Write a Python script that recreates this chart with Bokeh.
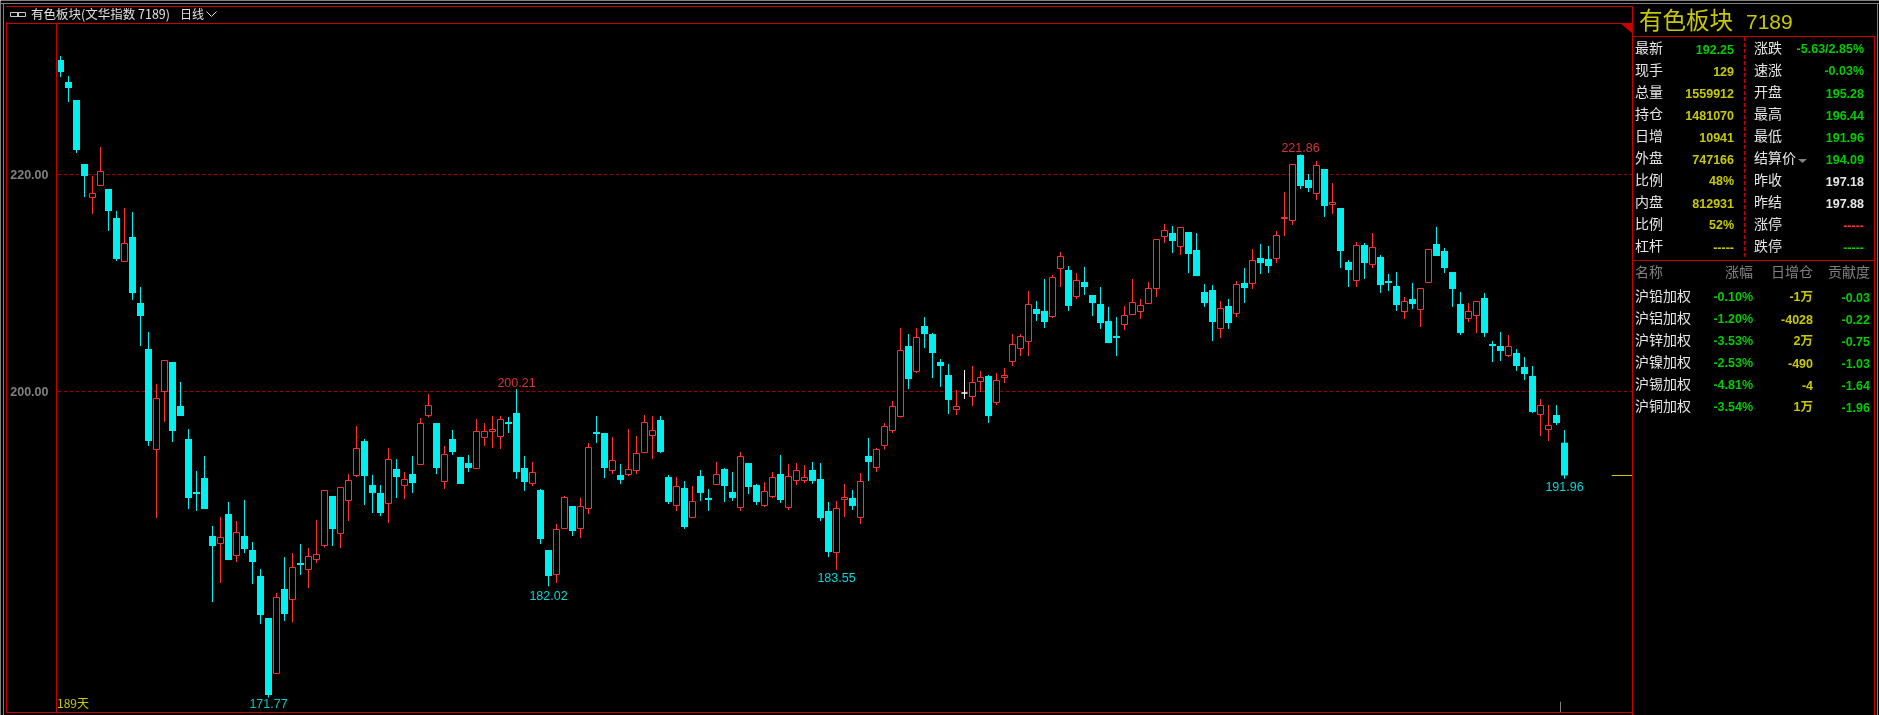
from bokeh.embed import file_html
from bokeh.resources import INLINE
from bokeh.plotting import figure
from bokeh.layouts import column
from bokeh.models import ColumnDataSource, FixedTicker, NumeralTickFormatter, Range1d
from bokeh.core.properties import value

highs = [230.95,229.10,226.89,220.99,219.88,222.56,218.68,216.65,216.93,216.56,
209.64,205.49,200.69,202.86,202.72,200.88,196.54,192.67,194.05,187.59,
188.42,189.81,188.05,189.99,186.12,183.63,179.11,181.41,184.73,185.10,
185.93,185.56,188.15,190.87,190.36,191.14,192.39,196.82,195.62,192.30,
191.37,194.79,193.77,192.57,194.05,197.56,199.77,197.09,194.97,196.45,
193.96,194.14,197.46,197.09,197.74,197.74,197.65,200.21,194.05,193.50,
191.01,185.38,187.78,190.36,189.44,190.22,195.25,197.74,196.17,195.80,
193.31,196.54,195.89,197.83,197.74,197.74,192.30,192.11,191.74,191.28,
192.76,191.01,193.50,192.94,192.57,194.42,193.40,191.47,191.65,192.57,
194.14,193.31,193.40,193.22,193.50,193.40,189.81,189.90,191.47,190.91,
192.48,195.71,194.79,197.09,199.12,205.86,205.30,205.86,206.87,205.40,
203.00,202.54,200.14,201.98,202.35,201.89,201.52,201.71,202.17,205.30,
205.30,209.27,208.35,210.38,210.75,212.87,211.58,210.93,211.49,208.90,
209.64,207.80,206.87,207.89,210.38,208.53,210.10,214.02,215.45,215.27,
215.13,214.71,214.62,209.92,209.82,208.35,208.53,210.19,211.39,213.15,
213.61,213.42,214.81,218.40,220.94,221.86,220.06,221.26,220.53,219.23,
216.93,212.13,213.79,213.70,214.62,212.59,210.84,211.02,208.72,210.01,
209.50,213.10,215.18,213.24,211.02,209.18,208.16,208.30,209.09,204.66,
205.49,205.21,203.92,203.18,202.35,199.31,198.75,198.75,196.44]

lows = [229.01,226.71,222.00,217.94,216.37,219.00,214.81,212.04,211.99,208.44,
204.20,194.97,188.33,197.19,195.34,197.74,189.16,188.98,189.16,180.58,
182.33,184.46,184.27,185.10,182.24,178.55,171.77,173.99,178.83,178.69,
183.07,181.87,184.18,185.61,185.75,185.56,188.05,192.11,189.53,188.79,
188.51,187.87,190.18,190.08,190.64,193.27,197.60,192.39,191.01,194.14,
191.47,192.57,192.90,194.97,194.79,194.70,196.17,191.93,190.82,191.28,
185.93,182.02,182.33,187.36,186.67,186.49,188.70,195.25,192.02,192.39,
191.47,192.20,192.39,194.37,193.77,194.33,189.62,188.98,187.32,188.38,
189.90,188.98,191.42,189.81,189.90,188.98,190.54,189.53,189.35,190.18,
189.71,189.07,191.37,191.56,191.47,188.05,184.73,183.55,188.42,189.07,
187.78,191.74,192.57,194.65,196.17,197.60,200.23,201.71,204.01,201.25,
200.42,197.92,197.83,199.31,198.66,199.95,197.09,198.75,200.78,202.35,
203.27,203.27,206.50,205.86,206.78,209.64,207.43,208.53,208.90,206.96,
205.77,204.47,203.27,205.67,207.10,206.69,208.12,208.72,213.70,212.78,
212.59,210.93,210.65,207.80,204.66,204.94,205.77,206.87,208.16,209.46,
210.84,210.93,211.85,214.34,215.36,218.68,218.40,217.67,216.10,216.37,
211.39,209.64,209.64,210.38,211.39,209.09,209.27,207.43,206.69,207.61,
205.95,210.06,212.50,210.93,207.80,205.21,206.41,205.40,205.03,202.72,
202.81,203.18,201.89,201.06,198.02,195.89,195.43,196.91,191.96]

opens = [230.58,228.55,226.89,220.99,217.90,219.00,218.68,216.01,211.99,214.25,
208.16,203.92,194.65,200.00,202.72,198.66,195.62,190.73,192.02,186.67,
185.98,188.70,184.87,186.67,185.38,182.98,179.11,173.99,181.78,180.81,
184.18,183.58,184.50,185.79,190.36,186.90,189.94,192.25,195.43,191.37,
190.64,189.67,192.85,191.33,192.39,193.27,197.79,197.09,191.70,195.62,
193.96,193.40,192.90,195.76,196.31,195.85,197.19,198.02,192.94,191.51,
190.91,185.38,183.12,187.36,189.44,187.36,189.21,196.26,196.17,192.71,
192.30,192.34,192.71,194.37,195.94,197.37,192.11,189.48,191.10,188.38,
192.20,190.18,191.42,192.85,190.73,189.30,193.40,191.37,189.48,190.31,
192.39,189.30,191.79,191.79,192.76,191.93,188.98,185.15,190.04,190.18,
188.38,194.05,192.99,195.02,196.40,197.69,204.20,201.85,206.04,205.30,
202.72,201.52,198.34,199.86,199.54,200.92,201.43,198.99,201.29,202.77,
203.97,204.61,207.61,207.43,206.92,211.35,211.21,208.76,210.10,208.90,
208.07,206.50,205.12,206.18,207.10,207.38,208.12,209.50,214.30,214.62,
213.38,214.71,213.05,209.18,209.36,205.81,207.89,207.20,210.01,209.96,
212.32,212.22,212.27,215.96,215.77,221.82,219.51,218.27,220.53,217.25,
216.93,211.95,210.24,213.51,211.72,212.41,210.19,209.73,207.38,208.53,
207.56,210.06,213.61,212.96,211.02,208.07,206.73,207.01,208.63,204.38,
204.20,203.32,203.55,202.26,201.43,197.88,196.49,197.83,195.28]

closes = [229.47,228.00,222.28,219.88,218.27,220.30,216.65,212.22,213.65,209.09,
206.96,195.43,199.35,202.86,196.36,197.74,190.18,190.54,189.16,185.75,
186.53,184.46,186.99,185.47,184.27,179.38,172.00,181.00,179.47,183.76,
183.99,184.78,184.96,190.87,187.32,191.14,191.79,194.74,192.20,190.64,
188.79,193.73,192.11,191.88,191.56,197.05,198.71,192.94,194.19,194.42,
191.47,192.94,196.31,196.31,196.49,197.42,197.00,192.57,191.65,192.53,
186.39,182.98,187.27,190.22,187.13,189.39,194.83,196.08,192.94,193.63,
191.84,192.80,194.28,197.14,196.40,194.42,189.81,191.24,187.50,189.85,
190.64,189.99,192.34,191.28,190.18,194.00,191.19,189.81,190.77,192.07,
189.99,192.16,192.71,192.07,191.74,188.33,185.19,189.21,190.22,189.44,
191.70,193.50,194.65,196.77,198.62,203.78,201.15,204.98,205.30,203.55,
202.35,199.22,198.62,199.86,200.83,201.29,197.74,201.01,201.48,204.34,
205.07,208.03,207.15,206.41,210.52,212.45,207.89,210.24,209.64,208.16,
206.32,204.47,204.94,207.01,208.21,207.93,209.50,214.02,214.85,213.88,
215.13,212.68,210.65,208.16,206.41,207.66,206.32,209.87,209.55,212.08,
211.85,211.58,214.39,216.05,220.94,218.96,218.77,220.85,217.11,217.44,
212.96,211.21,213.47,211.85,213.28,209.82,210.01,207.98,208.30,208.07,
209.50,213.10,212.50,211.39,209.46,205.40,207.38,208.30,205.40,204.20,
203.74,204.15,202.35,201.61,198.11,198.71,196.86,197.09,192.25]

assert len(highs) == len(lows) == len(opens) == len(closes) == 189

y_ticks = [200, 220]
extreme_idx = [26, 57, 61, 97, 155, 188]
extreme_val = [171.77, 200.21, 182.02, 183.55, 221.86, 191.96]
extreme_txt = ["171.77", "200.21", "182.02", "183.55", "221.86", "191.96"]
extreme_col = ["#00c8c8", "#d83232", "#00d8d8", "#00d8d8", "#d83232", "#00d8d8"]
extreme_off = [6, -7, 9, 8, -7, 8]

title_text = "有色板块(文华指数 7189)"
period_text = "日线"
days_text = "189天"
panel_name = "有色板块"
panel_code = "7189"

left_names = ["最新", "现手", "总量", "持仓", "日增", "外盘", "比例", "内盘", "比例", "杠杆"]
left_vals = ["192.25", "129", "1559912", "1481070", "10941", "747166", "48%", "812931", "52%", "-----"]
left_cols = ["g", "y", "y", "y", "y", "y", "y", "y", "y", "y"]
right_names = ["涨跌", "速涨", "开盘", "最高", "最低", "结算价", "昨收", "昨结", "涨停", "跌停"]
right_vals = ["-5.63/2.85%", "-0.03%", "195.28", "196.44", "191.96", "194.09", "197.18", "197.88", "-----", "-----"]
right_cols = ["g", "g", "g", "g", "g", "g", "w", "w", "r", "g"]

table_head = ["名称", "涨幅", "日增仓", "贡献度"]
table_names = ["沪铅加权", "沪铝加权", "沪锌加权", "沪镍加权", "沪锡加权", "沪铜加权"]
table_chg = ["-0.10%", "-1.20%", "-3.53%", "-2.53%", "-4.81%", "-3.54%"]
table_oi = ["-1万", "-4028", "2万", "-490", "-4", "1万"]
table_con = ["-0.03", "-0.22", "-0.75", "-1.03", "-1.64", "-1.96"]

W, H = 1879, 715
FL, FR, FT, FB = 57, 1632, 24, 712          # plot frame in page pixels
PX_PER_UNIT = 10.84
Y200 = 391.5
DX, DY = -0.5, -0.5                          # sub-pixel alignment of the marks
RED = "#c80000"; GRAY = "#808080"; CYAN = "#00f0f0"; UP = "#ff3232"
GREEN = "#00cc00"; YELLOW = "#c8c800"; WHITE = "#e6e6e6"
COLS = {"g": GREEN, "y": YELLOW, "w": WHITE, "r": "#ff3232"}
CJK = "Noto Sans CJK SC"
NUM = "Liberation Sans"
FIXED = {"position": "fixed", "left": "0", "top": "0"}

# ---------- layer 1: window chrome and quote panel, in page pixels ----------
c = figure(width=W, height=H, output_backend="svg", toolbar_location=None, tools="",
           x_axis_location=None, y_axis_location=None, frame_align=False,
           x_range=Range1d(-DX, W - DX), y_range=Range1d(H - DY, -DY),
           min_border_left=0, min_border_right=0, min_border_top=0, min_border_bottom=0,
           background_fill_color="black", border_fill_color="black", styles=FIXED)
c.outline_line_color = None
c.grid.visible = False

T = {k: [] for k in "x y s col size font align style".split()}
def txt(x, y, s, color, size, font=CJK, align="left", style="normal"):
    T["x"].append(x); T["y"].append(y); T["s"].append(s); T["col"].append(color)
    T["size"].append(f"{size}px"); T["font"].append(font); T["align"].append(align); T["style"].append(style)

R = {k: [] for k in "l t r b col".split()}
def rect(x0, y0, x1, y1, color):
    R["l"].append(x0); R["t"].append(y0); R["r"].append(x1); R["b"].append(y1); R["col"].append(color)

rect(0, 3, W, 4, GRAY)
rect(3, 3, 4, H, GRAY)
rect(W - 2, 3, W - 1, H, GRAY)
rect(6, 6, 1633, 7, RED)
rect(6, 23, 1633, 24, RED)
rect(6, 22, 7, 713, RED)
rect(56, 23, 57, 713, RED)
rect(1632, 6, 1633, H, RED)
rect(6, 712, 1633, 713, RED)
rect(1632, 36, 1875, 37, RED)
rect(1874, 36, 1875, H, RED)
rect(1632, 260, 1875, 261, RED)
for y0 in range(37, 256, 6):
    rect(1744, y0, 1745, y0 + 4, RED)
c.quad(left="l", right="r", top="t", bottom="b", fill_color="col", line_color=None, source=ColumnDataSource(R))

c.patch([1620, 1632, 1632], [23, 23, 33], fill_color=RED, line_color=None)
c.patch([1798, 1807, 1802.5], [159, 159, 163], fill_color=GRAY, line_color=None)

c.quad(left=[10.5, 17.5], right=[18.5, 25.5], top=[12.5, 12.5], bottom=[16.5, 16.5],
       fill_color=None, line_color="#c8c8c8", line_width=1)
c.line([206.5, 211.5, 216.5], [11.5, 16.5, 11.5], line_color="#e0e0e0", line_width=1)

txt(31, 13, title_text, "#e0e0e0", 12.5)
txt(180, 13, period_text, "#e0e0e0", 12)
txt(57, 702, days_text, YELLOW, 12)
txt(1639, 19, panel_name, YELLOW, 23.5)
txt(1746, 21.5, panel_code, YELLOW, 21, font=NUM)

row_y = [48, 70, 92, 114, 136, 158, 180, 202, 224, 246]
for y, n, v, k in zip(row_y, left_names, left_vals, left_cols):
    txt(1635, y - 1.5, n, WHITE, 14)
    txt(1734, y + 1, v, COLS[k], 12.5, font=NUM, align="right", style="bold")
for y, n, v, k in zip(row_y, right_names, right_vals, right_cols):
    txt(1754, y - 1.5, n, WHITE, 14)
    txt(1864, y + 1, v, COLS[k], 12.5, font=NUM, align="right", style="bold")

head_x = [1635, 1753, 1813, 1870]
head_align = ["left", "right", "right", "right"]
for x, a, s in zip(head_x, head_align, table_head):
    txt(x, 271, s, GRAY, 14, align=a)
tab_y = [296.5, 318.5, 340.5, 362.5, 384.5, 406.5]
for y, n, a, b, d in zip(tab_y, table_names, table_chg, table_oi, table_con):
    txt(1635, y - 1.5, n, WHITE, 14)
    txt(1753, y + 0.5, a, GREEN, 12.5, font=NUM, align="right", style="bold")
    txt(1813, y + 0.5, b, YELLOW, 12.5, font=f"{NUM}, {CJK}", align="right", style="bold")
    txt(1870, y + 0.5, d, GREEN, 12.5, font=NUM, align="right", style="bold")

for fnt, st, al in sorted({(f, s, a) for f, s, a in zip(T["font"], T["style"], T["align"])}):
    keep = [i for i in range(len(T["x"])) if (T["font"][i], T["style"][i], T["align"][i]) == (fnt, st, al)]
    src = ColumnDataSource({k: [T[k][i] for i in keep] for k in ("x", "y", "s", "col", "size")})
    c.text("x", "y", text="s", source=src, text_color="col", text_font_size="size",
           text_font=value(fnt), text_font_style=st, text_align=al, text_baseline="middle")

# ---------- layer 2: the candlestick chart with its own scales and axis ----------
p = figure(width=W, height=H, output_backend="svg", toolbar_location=None, tools="",
           x_axis_location=None, frame_align=False,
           x_range=Range1d((FL - 60.5 - DX) / 8, (FR - 60.5 - DX) / 8),
           y_range=Range1d(200 - (FB - Y200 - DY) / PX_PER_UNIT, 200 + (Y200 + DY - FT) / PX_PER_UNIT),
           min_border_left=FL, min_border_right=W - FR, min_border_top=FT, min_border_bottom=H - FB,
           background_fill_alpha=0, border_fill_alpha=0, styles=FIXED)
p.outline_line_color = None
p.xgrid.visible = False
p.ygrid.ticker = FixedTicker(ticks=y_ticks)
p.ygrid.grid_line_color = "#960000"
p.ygrid.grid_line_dash = "4 2"
p.ygrid.grid_line_width = 1
ax = p.yaxis[0]
ax.ticker = FixedTicker(ticks=y_ticks)
ax.formatter = NumeralTickFormatter(format="0.00")
ax.axis_line_color = None
ax.major_tick_line_color = None
ax.minor_tick_line_color = None
ax.major_label_standoff = 3
ax.major_label_text_color = GRAY
ax.major_label_text_font = NUM
ax.major_label_text_font_style = "bold"
ax.major_label_text_font_size = "12.5px"

idx = list(range(len(opens)))
def subset(cond):
    ii = [i for i in idx if cond(i)]
    return ColumnDataSource(dict(x=ii, o=[opens[i] for i in ii], c=[closes[i] for i in ii],
                                 h=[highs[i] for i in ii], l=[lows[i] for i in ii]))

fall = subset(lambda i: closes[i] < opens[i])
rise = subset(lambda i: closes[i] > opens[i])
flat = subset(lambda i: closes[i] == opens[i])

for src, col in ((fall, CYAN), (rise, UP), (flat, "#ffffff")):
    p.segment("x", "h", "x", "l", source=src, line_color=col, line_width=1)
p.vbar("x", 7 / 8, "o", "c", source=fall, fill_color=CYAN, line_color=None)
for src, col in ((rise, UP), (flat, "#ffffff")):
    p.vbar("x", 6 / 8, "o", "c", source=src, fill_color="black", line_color=col, line_width=1)

ext = ColumnDataSource(dict(x=extreme_idx, y=extreme_val, t=extreme_txt, c=extreme_col, off=extreme_off))
p.text("x", "y", text="t", source=ext, text_color="c", y_offset="off", text_align="center",
       text_baseline="middle", text_font=value(NUM), text_font_size="12.5px")

p.segment([193.9], [closes[-1]], [196.44], [closes[-1]], line_color=YELLOW, line_width=1)
p.segment([187.5], [171.38], [187.5], [170.4], line_color=GRAY, line_width=1)

open("out.html", "w").write(file_html(column(c, p), INLINE))
